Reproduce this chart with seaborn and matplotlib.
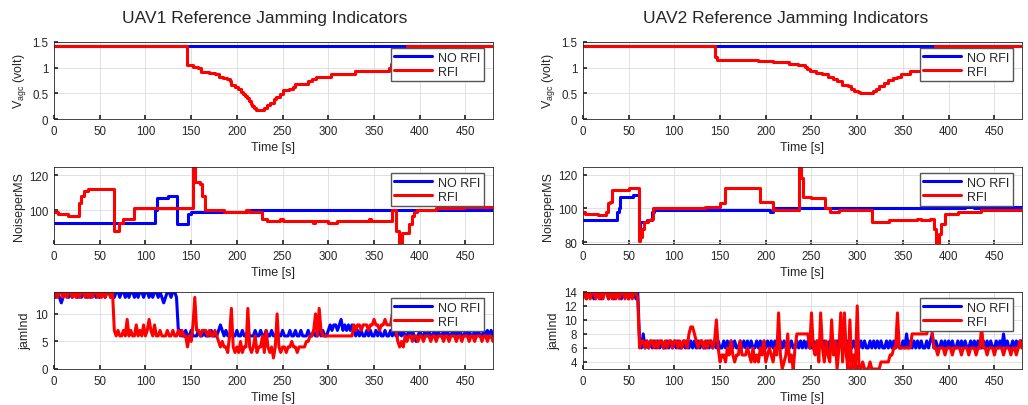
import matplotlib
matplotlib.use("Agg")
import matplotlib.pyplot as plt
import numpy as np
import seaborn as sns

sns.set_theme(style="whitegrid")
plt.rcParams["font.family"] = ["Liberation Sans", "DejaVu Sans"]
plt.rcParams["mathtext.fontset"] = "custom"
plt.rcParams["mathtext.rm"] = "Liberation Sans"
plt.rcParams["mathtext.it"] = "Liberation Sans"

BLUE = "#0000ff"
RED = "#ff0000"
TXT = "#262626"

# ---------- Vagc (step breakpoints) ----------
vagc_t_norfi = [0, 480]
vagc_norfi = [1.42, 1.42]

vagc1_t_rfi = [0, 146, 152, 158, 161, 170, 176, 180, 185, 189, 192, 194, 198, 201, 204,
               207, 209, 211, 213, 215, 217, 219, 221, 230, 233, 236, 241, 243, 247, 250,
               257, 261, 264, 278, 282, 286, 303, 329, 366, 369, 378, 386, 480]
vagc1_rfi = [1.42, 1.05, 1.02, 1.0, 0.92, 0.90, 0.87, 0.82, 0.80, 0.77, 0.73, 0.66, 0.63, 0.58, 0.53,
             0.49, 0.44, 0.40, 0.35, 0.30, 0.26, 0.22, 0.18, 0.22, 0.28, 0.32, 0.38, 0.43, 0.48, 0.56,
             0.58, 0.63, 0.68, 0.74, 0.78, 0.82, 0.87, 0.93, 1.0, 1.07, 1.12, 1.42, 1.42]

vagc2_t_rfi = [0, 145, 147, 192, 208, 225, 235, 243, 245, 248, 255, 262, 268, 273, 278,
               283, 290, 293, 297, 301, 303, 317, 321, 324, 329, 334, 339, 343, 348, 358,
               372, 380, 385, 480]
vagc2_rfi = [1.42, 1.20, 1.14, 1.12, 1.10, 1.07, 1.05, 1.02, 0.97, 0.93, 0.90, 0.87, 0.82, 0.77, 0.74,
             0.67, 0.64, 0.59, 0.55, 0.52, 0.50, 0.55, 0.58, 0.64, 0.70, 0.75, 0.80, 0.82, 0.88, 0.93,
             0.95, 1.0, 1.42, 1.42]

# ---------- NoiseperMS (step breakpoints) ----------
noise1_t_norfi = [0, 110, 113, 125, 135, 147, 150, 211, 480]
noise1_norfi = [93, 100, 107, 108, 92, 98, 99, 100, 100]
noise1_t_rfi = [0, 4, 15, 27, 30, 33, 37, 66, 71, 75, 88, 152, 154, 160, 162, 165, 186, 210, 213,
                228, 233, 247, 250, 283, 285, 300, 310, 345, 347, 370, 374, 377, 381, 388, 391,
                394, 397, 418, 448, 480]
noise1_rfi = [99, 98, 97, 104, 108, 111, 112, 88, 93, 95, 101, 124.5, 116, 115, 108, 100, 99, 100, 99,
              95, 94, 95, 94, 93, 94, 93, 94, 95, 94, 100, 88, 81, 87, 92, 97,
              99, 100, 101, 102, 102]

noise2_t_norfi = [0, 37, 39, 41, 55, 61, 63, 70, 76, 78, 205, 208, 418, 428, 458, 480]
noise2_norfi = [93, 98, 100, 107, 108, 86, 92, 93, 98, 99, 98, 100, 101, 100, 101, 101]
noise2_t_rfi = [0, 2, 17, 25, 27, 30, 32, 50, 61, 63, 65, 67, 71, 74, 77, 134, 150, 155, 194, 208,
                236, 239, 241, 250, 265, 270, 280, 316, 335, 365, 370, 380, 384, 386, 389, 392,
                396, 410, 435, 480]
noise2_rfi = [98, 97, 96, 98, 103, 104, 111, 112, 81, 83, 88, 92, 93, 94, 100, 101, 103, 112, 104, 99,
              124.5, 118, 107, 106, 100, 98, 99, 92, 93, 94, 93, 94, 88, 79.5, 85, 91,
              97, 98, 99, 99]

# ---------- jamInd (sampled every 2 s, 0..480) ----------
jam_t = np.arange(0, 481, 2)

jam1_norfi = [
    14, 13, 14, 13, 12, 13, 14, 14, 13, 14, 13, 14, 14, 13, 14, 13, 14, 14, 13, 14,
    13, 14, 14, 13, 14, 13, 14, 14, 13, 14, 14, 13, 14, 13, 14, 14, 13, 14, 14, 13,
    14, 13, 14, 14, 13, 14, 13, 14, 14, 13, 14, 14, 13, 14, 13, 14, 14, 13, 14, 13,
    12, 13, 14, 14, 13, 14, 14, 13, 7, 7, 6, 6, 7, 6, 6, 7, 6, 6, 6, 7,
    6, 6, 7, 6, 6, 6, 7, 6, 6, 6, 7, 8, 7, 6, 7, 6, 6, 7, 6, 6,
    7, 6, 6, 7, 6, 6, 7, 6, 6, 6, 7, 6, 6, 7, 6, 6, 7, 6, 6, 7,
    6, 6, 7, 6, 6, 7, 6, 6, 6, 7, 6, 6, 7, 6, 6, 7, 6, 6, 6, 7,
    6, 6, 7, 6, 6, 7, 6, 7, 6, 6, 7, 8, 7, 8, 8, 7, 8, 9, 7, 8,
    7, 8, 7, 8, 7, 6, 7, 6, 7, 6, 6, 7, 6, 7, 6, 6, 7, 6, 7, 6,
    6, 7, 6, 6, 7, 6, 7, 6, 6, 7, 6, 7, 6, 6, 7, 6, 7, 6, 5, 6,
    7, 6, 6, 7, 6, 7, 6, 6, 7, 6, 7, 6, 6, 7, 6, 7, 6, 6, 7, 6,
    7, 6, 7, 6, 6, 7, 6, 7, 6, 6, 7, 6, 7, 6, 6, 7, 6, 7, 6, 7,
    6]
jam1_rfi = [
    13, 14, 13, 14, 14, 13, 14, 13, 14, 14, 13, 14, 13, 14, 13, 14, 14, 13, 14, 13,
    14, 13, 14, 14, 13, 14, 13, 14, 13, 14, 14, 13, 14, 7, 6, 7, 6, 6, 7, 6,
    9, 6, 7, 6, 6, 8, 6, 7, 6, 8, 6, 7, 9, 7, 6, 8, 6, 6, 7, 6,
    6, 6, 7, 6, 6, 7, 6, 6, 7, 6, 7, 6, 6, 4, 6, 5, 8, 13, 7, 7,
    6, 7, 7, 7, 6, 7, 6, 6, 7, 6, 5, 4, 5, 4, 4, 3, 6, 11, 4, 3,
    4, 3, 5, 3, 4, 4, 11, 4, 3, 4, 6, 3, 4, 4, 6, 3, 7, 4, 3, 4,
    2, 4, 10, 4, 3, 4, 4, 3, 4, 4, 5, 4, 4, 3, 4, 4, 4, 4, 5, 5,
    6, 6, 7, 10, 6, 11, 7, 6, 6, 6, 6, 6, 6, 6, 6, 6, 6, 6, 6, 6,
    6, 6, 6, 6, 8, 7, 8, 8, 7, 8, 8, 8, 7, 8, 8, 9, 8, 8, 7, 8,
    8, 9, 8, 8, 8, 10, 8, 7, 5, 4, 5, 4, 6, 5, 6, 6, 5, 6, 6, 5,
    6, 6, 5, 6, 6, 6, 5, 6, 6, 5, 6, 6, 6, 5, 6, 6, 5, 6, 6, 6,
    5, 6, 6, 5, 6, 6, 6, 5, 6, 6, 5, 6, 6, 6, 5, 6, 6, 5, 6, 6,
    5]

jam2_norfi = [
    14, 14, 13, 14, 14, 14, 13, 14, 14, 14, 13, 14, 14, 14, 13, 14, 14, 13, 14, 14,
    14, 13, 14, 14, 14, 13, 14, 14, 14, 13, 14, 7, 6, 8, 6, 7, 6, 7, 6, 7,
    6, 7, 6, 7, 6, 6, 7, 6, 7, 6, 7, 6, 7, 6, 6, 7, 6, 7, 6, 7,
    6, 7, 6, 7, 6, 7, 6, 6, 7, 6, 7, 6, 7, 6, 7, 6, 6, 7, 6, 7,
    6, 7, 6, 7, 6, 6, 7, 6, 7, 6, 7, 6, 7, 6, 6, 7, 6, 7, 6, 7,
    6, 7, 6, 7, 6, 7, 6, 6, 7, 6, 7, 6, 7, 6, 7, 6, 6, 7, 6, 7,
    6, 7, 6, 7, 6, 6, 7, 6, 7, 6, 7, 6, 7, 6, 6, 7, 6, 7, 6, 7,
    6, 7, 6, 7, 6, 7, 6, 6, 7, 6, 7, 6, 7, 6, 7, 6, 6, 7, 6, 7,
    6, 7, 6, 7, 6, 6, 7, 6, 7, 6, 7, 6, 7, 6, 6, 7, 6, 8, 6, 7,
    6, 7, 6, 7, 6, 7, 6, 6, 7, 6, 7, 8, 6, 7, 6, 6, 7, 6, 7, 6,
    7, 6, 7, 6, 6, 7, 6, 7, 6, 7, 6, 6, 7, 6, 7, 6, 7, 6, 6, 7,
    6, 7, 6, 7, 6, 6, 7, 6, 7, 6, 8, 6, 7, 6, 6, 7, 6, 7, 6, 7,
    7]
jam2_rfi = [
    13, 14, 13, 14, 13, 14, 14, 13, 14, 13, 14, 13, 14, 14, 13, 14, 13, 14, 13, 14,
    13, 14, 14, 13, 14, 13, 14, 13, 14, 14, 13, 6, 7, 7, 6, 7, 6, 7, 7, 6,
    7, 6, 7, 7, 6, 7, 6, 7, 7, 6, 7, 7, 6, 7, 6, 7, 7, 6, 8, 9,
    9, 8, 7, 6, 7, 7, 6, 7, 6, 7, 7, 6, 7, 10, 6, 4, 5, 5, 4, 6,
    5, 7, 5, 4, 5, 5, 7, 5, 5, 5, 6, 5, 4, 6, 4, 5, 4, 6, 5, 7,
    4, 5, 6, 5, 4, 6, 5, 11, 5, 3, 4, 5, 8, 4, 5, 3, 6, 8, 8, 8,
    8, 8, 8, 8, 6, 11, 6, 5, 7, 4, 11, 6, 4, 7, 5, 4, 10, 5, 7, 3,
    6, 11, 4, 11, 5, 3, 10, 3, 5, 3, 12, 3, 3, 4, 3, 3, 3, 4, 3, 3,
    3, 3, 3, 4, 4, 4, 4, 4, 5, 5, 6, 6, 11, 6, 6, 6, 6, 6, 6, 6,
    8, 8, 8, 8, 8, 8, 8, 8, 8, 9, 10, 8, 6, 6, 5, 6, 6, 6, 5, 6,
    6, 6, 5, 6, 6, 6, 6, 5, 6, 6, 6, 5, 6, 6, 6, 5, 6, 6, 9, 6,
    6, 5, 6, 6, 6, 5, 6, 6, 6, 6, 5, 6, 6, 6, 5, 6, 6, 5, 6, 7,
    6]

titles = ["UAV1 Reference Jamming Indicators", "UAV2 Reference Jamming Indicators"]
title_x = [0.257, 0.764]
col_left = [0.0525, 0.567]
row_bottom = [0.7044, 0.3966, 0.0887]
ax_w, ax_h = 0.427, 0.19

fig = plt.figure(figsize=(10.28, 4.06), dpi=100)


def style_axes(ax, ylabel):
    ax.set_xlim(0, 480)
    ax.set_xticks(range(0, 451, 50))
    ax.set_xlabel("Time [s]", fontsize=9, color=TXT, labelpad=3)
    ax.set_ylabel(ylabel, fontsize=9, color=TXT, labelpad=3)
    ax.set_facecolor("white")
    ax.grid(True, color="#dcdcdc", linewidth=0.6)
    for s in ax.spines.values():
        s.set_visible(True)
        s.set_color(TXT)
        s.set_linewidth(0.6)
    ax.tick_params(axis="both", labelsize=8.3, colors=TXT, direction="in", length=3, pad=4,
                   left=True, bottom=True)
    ax.legend(loc="upper right", bbox_to_anchor=(0.98, 0.92), borderaxespad=0,
              fontsize=9, frameon=True, fancybox=False, framealpha=1, edgecolor="#555555",
              handlelength=3.0, handletextpad=0.5, borderpad=0.3, labelspacing=0.15)


def draw(ax, xb, yb, xr, yr, steps=True):
    kw = dict(linewidth=2.2, sort=False, estimator=None)
    if steps:
        kw["drawstyle"] = "steps-post"
    sns.lineplot(x=xb, y=yb, ax=ax, color=BLUE, label="NO RFI", **kw)
    sns.lineplot(x=xr, y=yr, ax=ax, color=RED, label="RFI", **kw)


panels = [
    (vagc_t_norfi, vagc_norfi, vagc1_t_rfi, vagc1_rfi,
     noise1_t_norfi, noise1_norfi, noise1_t_rfi, noise1_rfi,
     jam1_norfi, jam1_rfi, (80.8, 124.7), (0, 14), [0, 5, 10]),
    (vagc_t_norfi, vagc_norfi, vagc2_t_rfi, vagc2_rfi,
     noise2_t_norfi, noise2_norfi, noise2_t_rfi, noise2_rfi,
     jam2_norfi, jam2_rfi, (79.0, 124.6), (3, 14), [4, 6, 8, 10, 12, 14]),
]

for c, (vb_t, vb, vr_t, vr, nb_t, nb, nr_t, nr, jb, jr, nlim, jlim, jticks) in enumerate(panels):
    ax1 = fig.add_axes([col_left[c], row_bottom[0], ax_w, ax_h])
    draw(ax1, vb_t, vb, vr_t, vr)
    ax1.set_ylim(0, 1.5)
    ax1.set_yticks([0, 0.5, 1, 1.5])
    ax1.set_yticklabels(["0", "0.5", "1", "1.5"])
    style_axes(ax1, r"V$_{\mathrm{agc}}$ (volt)")

    ax2 = fig.add_axes([col_left[c], row_bottom[1], ax_w, ax_h])
    draw(ax2, nb_t, nb, nr_t, nr)
    ax2.set_ylim(*nlim)
    ax2.set_yticks([t for t in [80, 100, 120] if nlim[0] <= t <= nlim[1]])
    style_axes(ax2, "NoiseperMS")

    ax3 = fig.add_axes([col_left[c], row_bottom[2], ax_w, ax_h])
    draw(ax3, jam_t, jb, jam_t, jr, steps=False)
    ax3.set_ylim(*jlim)
    ax3.set_yticks(jticks)
    style_axes(ax3, "jamInd")

    fig.text(title_x[c], 0.955, titles[c], ha="center", va="center", fontsize=12.5, color=TXT)

fig.savefig("out.png", dpi=100, facecolor="white")
